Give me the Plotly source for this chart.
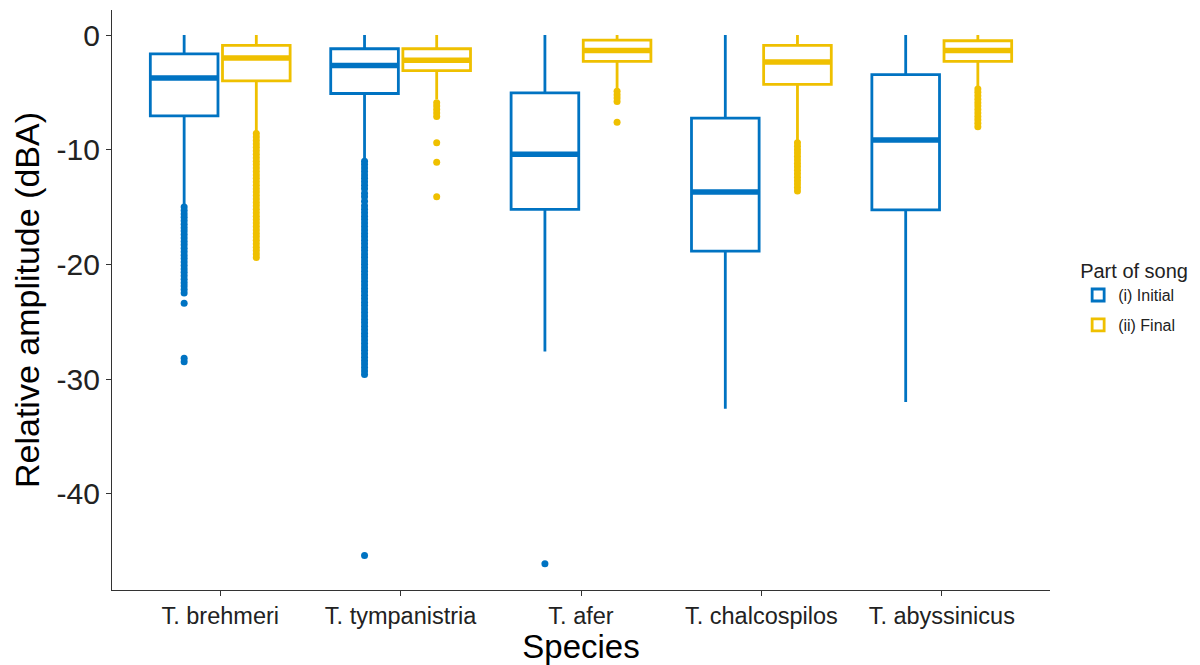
import plotly.graph_objects as go

# Species along the x axis
species = ["T. brehmeri", "T. tympanistria", "T. afer", "T. chalcospilos", "T. abyssinicus"]

# Box statistics for the initial part of the song (dBA)
init_upper = [0.0, 0.0, 0.0, 0.0, 0.0]
init_q3 = [-1.65, -1.2, -5.05, -7.25, -3.45]
init_median = [-3.75, -2.65, -10.4, -13.7, -9.15]
init_q1 = [-7.05, -5.1, -15.2, -18.85, -15.25]
init_lower = [-14.9, -10.9, -27.6, -32.6, -32.0]

# Box statistics for the final part of the song (dBA)
final_upper = [0.0, 0.0, 0.0, 0.0, 0.0]
final_q3 = [-0.9, -1.2, -0.45, -0.9, -0.5]
final_median = [-2.0, -2.2, -1.35, -2.35, -1.35]
final_q1 = [-4.0, -3.1, -2.3, -4.3, -2.3]
final_lower = [-8.4, -5.6, -4.7, -9.2, -4.5]

# Outlying observations, per species
init_outliers = [
    [-15.0, -15.3, -15.6, -15.9, -16.2, -16.5, -16.8, -17.1, -17.4, -17.7, -18.0,
     -18.3, -18.6, -18.9, -19.2, -19.5, -19.8, -20.1, -20.4, -20.7, -21.0, -21.3,
     -21.6, -21.9, -22.2, -22.5, -23.4, -28.2, -28.5],
    [-11.0, -11.3, -11.6, -11.9, -12.2, -12.5, -12.8, -13.1, -13.4, -13.8, -14.1,
     -14.5, -14.9, -15.2, -15.5, -15.8, -16.1, -16.4, -16.7, -17.0, -17.3, -17.6,
     -17.9, -18.2, -18.5, -18.8, -19.1, -19.4, -19.7, -20.0, -20.3, -20.6, -20.9,
     -21.2, -21.5, -21.8, -22.1, -22.4, -22.7, -23.0, -23.3, -23.6, -23.9, -24.2,
     -24.5, -24.8, -25.1, -25.4, -25.7, -26.0, -26.3, -26.6, -26.9, -27.2, -27.5,
     -27.8, -28.1, -28.4, -28.7, -29.0, -29.3, -29.6, -45.4],
    [-46.1],
    [],
    [],
]
final_outliers = [
    [-8.6, -8.9, -9.2, -9.5, -9.8, -10.1, -10.4, -10.7, -11.0, -11.3, -11.6, -11.9,
     -12.2, -12.5, -12.8, -13.1, -13.4, -13.7, -14.0, -14.3, -14.6, -14.9, -15.2,
     -15.5, -15.8, -16.1, -16.4, -16.7, -17.0, -17.3, -17.6, -17.9, -18.2, -18.5,
     -18.8, -19.1, -19.4],
    [-5.9, -6.2, -6.5, -6.8, -7.1, -9.4, -11.1, -14.1],
    [-4.9, -5.2, -5.5, -5.8, -7.6],
    [-9.4, -9.7, -10.0, -10.3, -10.6, -10.9, -11.2, -11.5, -11.8, -12.1, -12.4,
     -12.7, -13.0, -13.3, -13.6],
    [-4.7, -5.0, -5.3, -5.6, -5.9, -6.2, -6.5, -6.8, -7.1, -7.4, -7.7, -8.0],
]

BLUE = "#0073C2"
YELLOW = "#EFC000"
FONT = "Liberation Sans, Arial, sans-serif"

DODGE = 0.2      # half the dodge distance between the two boxes of a species
BOX_W = 0.375    # box width in category units

fig = go.Figure()

groups = [
    ("(i) Initial", BLUE, -DODGE, init_q1, init_median, init_q3, init_lower, init_upper, init_outliers),
    ("(ii) Final", YELLOW, DODGE, final_q1, final_median, final_q3, final_lower, final_upper, final_outliers),
]

for name, color, off, q1, med, q3, lo, hi, outs in groups:
    xpos = [i + 1 + off for i in range(len(species))]
    # outlier dots
    ox, oy = [], []
    for x, vals in zip(xpos, outs):
        ox += [x] * len(vals)
        oy += vals
    fig.add_trace(go.Scatter(
        x=ox, y=oy, mode="markers", showlegend=False, hoverinfo="y",
        marker=dict(color=color, size=7, line=dict(width=0)),
    ))
    # boxes and whiskers
    fig.add_trace(go.Box(
        name=name, x=xpos, q1=q1, median=med, q3=q3,
        lowerfence=lo, upperfence=hi, width=BOX_W,
        boxpoints=False, whiskerwidth=0,
        line=dict(color=color, width=2.8), fillcolor="white",
        legendgroup=name,
    ))
    # thicker median bar drawn as a zero-height box
    fig.add_trace(go.Box(
        name=name, x=xpos, q1=med, median=med, q3=med,
        lowerfence=med, upperfence=med, width=BOX_W,
        boxpoints=False, whiskerwidth=0,
        line=dict(color=color, width=5.5), fillcolor=color,
        showlegend=False, legendgroup=name, hoverinfo="skip",
    ))

fig.update_layout(
    width=1200, height=665,
    paper_bgcolor="white", plot_bgcolor="white",
    margin=dict(l=112, r=150, t=10, b=75),
    font=dict(family=FONT, color="black"),
    boxmode="overlay",
    legend=dict(
        title=dict(text="Part of song", font=dict(size=20, color="#222")),
        font=dict(size=16, color="#222"),
        x=1.03, xanchor="left", y=0.505, yanchor="middle",
        itemwidth=30, tracegroupgap=6,
        bgcolor="rgba(0,0,0,0)",
    ),
    xaxis=dict(
        range=[0.4, 5.6],
        tickmode="array",
        tickvals=[i + 1 for i in range(len(species))],
        ticktext=species,
        tickfont=dict(size=23.5, color="#222"),
        ticks="outside", ticklen=5, tickcolor="#333", tickwidth=1,
        showline=True, linecolor="#333", linewidth=1.2,
        showgrid=False, zeroline=False,
        title=dict(text="Species", font=dict(size=33, color="black"), standoff=4),
    ),
    yaxis=dict(
        range=[-48.4, 2.18],
        tickmode="array",
        tickvals=[0, -10, -20, -30, -40],
        ticktext=["0", "-10", "-20", "-30", "-40"],
        tickfont=dict(size=30, color="#222"),
        ticks="outside", ticklen=5, tickcolor="#333", tickwidth=1,
        showline=True, linecolor="#333", linewidth=1.2,
        showgrid=False, zeroline=False,
        title=dict(text="Relative amplitude (dBA)", font=dict(size=34, color="black"), standoff=6),
    ),
)

fig.write_html("out.html")
